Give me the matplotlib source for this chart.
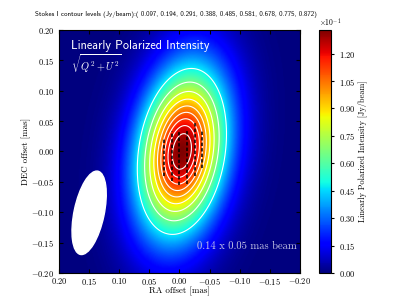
import numpy as np
import matplotlib
matplotlib.use('Agg')
from matplotlib import pyplot as plt
from matplotlib.patches import Ellipse
from matplotlib.ticker import MultipleLocator, ScalarFormatter

plt.rcParams['font.family'] = 'serif'
plt.rcParams['font.serif'] = ['cmr10']
plt.rcParams['mathtext.fontset'] = 'cm'
plt.rcParams['axes.formatter.use_mathtext'] = True
plt.rcParams['axes.unicode_minus'] = True

# Stokes I contour levels (Jy/beam)
levels = [0.097, 0.194, 0.291, 0.388, 0.485, 0.581, 0.678, 0.775, 0.872]
i_peak = 0.969

# source model (mas)
src_x0, src_y0 = -0.004, 0.0
src_sig_major, src_sig_minor = 0.0642, 0.0334
src_pa = 9.0           # deg, tilt of the major axis from north toward -RA
p_peak = 0.1330        # Jy/beam, peak polarized intensity
p_broaden = 1.5        # P map is wider than the I map

# beam
beam_x, beam_y = 0.150, -0.101
beam_major, beam_minor, beam_pa = 0.14, 0.05, 12.0

# polarization vectors (columns of dashed ticks)
vec_x = [0.025, 0.0125, 0.0, -0.0125, -0.025, -0.0375]
vec_top = [0.020, 0.033, 0.034, 0.034, 0.047, 0.034]
vec_bot = [-0.040, -0.048, -0.056, -0.054, -0.041, -0.027]

ticks = [0.20, 0.15, 0.10, 0.05, 0.00, -0.05, -0.10, -0.15, -0.20]

# map grid
n = 256
xs = np.linspace(0.2, -0.2, n)
ys = np.linspace(-0.2, 0.2, n)
X, Y = np.meshgrid(xs, ys)
t = np.radians(src_pa)
dx, dy = X - src_x0, Y - src_y0
u = -dx * np.sin(t) + dy * np.cos(t)   # along major axis
v = dx * np.cos(t) + dy * np.sin(t)
r2 = (u / src_sig_major) ** 2 + (v / src_sig_minor) ** 2
stokes_i = i_peak * np.exp(-0.5 * r2)
pol = p_peak * np.exp(-0.5 * r2 / p_broaden ** 2)

fig = plt.figure(figsize=(4.07, 3.05), dpi=100)
ax = fig.add_axes([0.145, 0.105, 0.592, 0.797])
cax = fig.add_axes([0.784, 0.105, 0.030, 0.797])

im = ax.imshow(pol, origin='lower', extent=[0.2, -0.2, -0.2, 0.2],
               cmap='jet', vmin=0, vmax=p_peak, aspect='auto',
               interpolation='bilinear')
ax.contour(X, Y, stokes_i, levels=levels, colors='white', linewidths=0.8)
ax.vlines(vec_x, vec_bot, vec_top, colors='black', linewidth=1.1,
          linestyles=(0, (2.2, 1.4)))

ax.add_patch(Ellipse((beam_x, beam_y), beam_minor, beam_major, angle=beam_pa,
                     facecolor='white', edgecolor='white'))

ax.set_xlim(0.2, -0.2)
ax.set_ylim(-0.2, 0.2)
ax.set_xticks(ticks)
ax.set_yticks(ticks)
ax.tick_params(direction='in', top=True, right=True, length=3, labelsize=6)
ax.tick_params(axis='x', pad=2)
ax.set_xlabel('RA offset [mas]', fontsize=6.5, labelpad=0)
ax.set_ylabel('DEC offset [mas]', fontsize=6.5, labelpad=0)

ax.text(0.048, 0.934, 'Linearly Polarized Intensity', transform=ax.transAxes,
        color='white', fontsize=8.8, family='cmss10', va='center')
ax.text(0.048, 0.862, r'$\sqrt{Q^2+U^2}$', transform=ax.transAxes,
        color='white', fontsize=7.4, va='center')
ax.text(0.985, 0.111, '0.14 x 0.05 mas beam', transform=ax.transAxes,
        color='#c8c8e6', fontsize=7.6, ha='right', va='center')

cb = fig.colorbar(im, cax=cax)
cb.locator = MultipleLocator(0.015)
fmt = ScalarFormatter(useMathText=True)
fmt.set_powerlimits((0, 0))
cb.formatter = fmt
cb.update_ticks()
cb.ax.tick_params(labelsize=6, length=2)
# offset text sits just above the bar, under the title
cb.ax.yaxis.get_offset_text().set_visible(False)
cax.text(0.0, 1.004, r'$\times10^{-1}$', transform=cax.transAxes,
         fontsize=5.5, ha='left', va='bottom')
cb.set_label('Linearly Polarized Intensity [Jy/beam]', fontsize=6, labelpad=1)

fig.text(0.086, 0.951,
         'Stokes I contour levels (Jy/beam):( 0.097, 0.194, 0.291, 0.388, 0.485, 0.581, 0.678, 0.775, 0.872)',
         fontsize=5, family='cmss10', ha='left', va='center')

fig.savefig('out.png', dpi=100)
